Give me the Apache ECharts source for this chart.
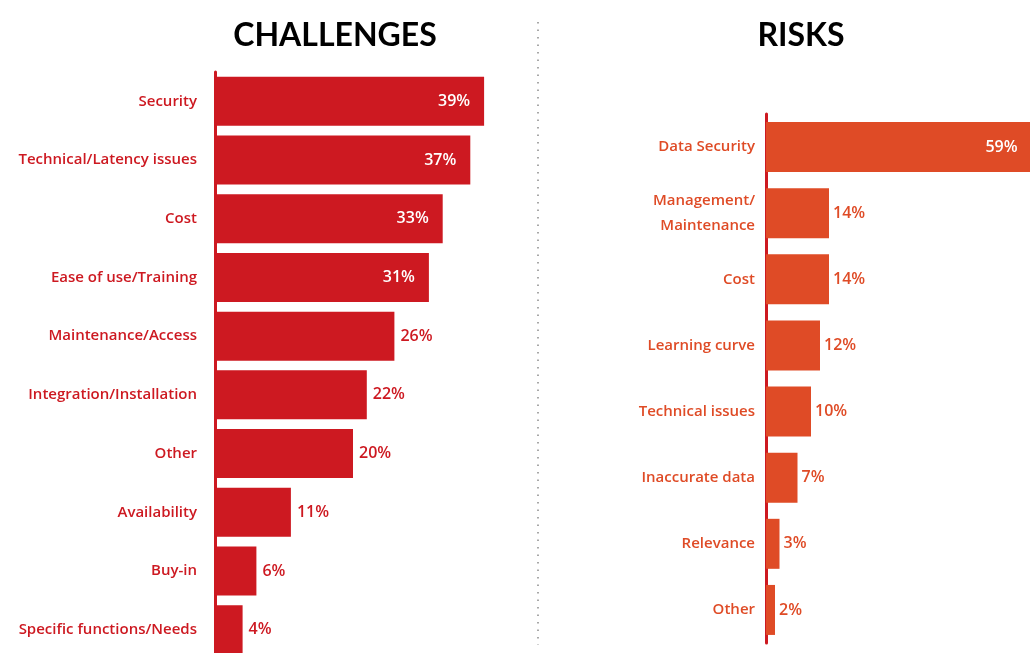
<!DOCTYPE html>
<html>
<head>
<meta charset="utf-8">
<script src="https://cdn.jsdelivr.net/npm/echarts@6/dist/echarts.min.js"></script>
<style>
html,body{margin:0;padding:0;background:#fff;}
#chart{width:1030px;height:653px;}
</style>
</head>
<body>
<div id="chart"></div>
<script>
const challengeCats = ['Security','Technical/Latency issues','Cost','Ease of use/Training','Maintenance/Access','Integration/Installation','Other','Availability','Buy-in','Specific functions/Needs'];
const challengeValues = [39,37,33,31,26,22,20,11,6,4];
const riskCats = ['Data Security','Management/\nMaintenance','Cost','Learning curve','Technical issues','Inaccurate data','Relevance','Other'];
const riskValues = [59,14,14,12,10,7,3,2];

const RED = '#cd1921';
const ORANGE = '#df4b26';
const FONT = '"Open Sans", Lato, sans-serif';
const TFONT = 'Lato, "Open Sans", sans-serif';

function mkData(vals, threshold, color, outDist) {
  return vals.map(v => ({
    value: v,
    label: v >= threshold
      ? {position: 'insideRight', distance: 14, color: '#fff'}
      : {position: 'right', distance: outDist, color: color}
  }));
}

const chart = echarts.init(document.getElementById('chart'));
chart.setOption({
  animation: false,
  backgroundColor: '#fff',
  graphic: [
    {type: 'line', shape: {x1: 538, y1: 22, x2: 538, y2: 645},
     style: {stroke: '#a8a8a8', lineWidth: 2, lineDash: [1.5, 6]}},
    {type: 'text', x: 335, y: 36, style: {text: 'CHALLENGES', align: 'center', verticalAlign: 'middle',
     font: 'bold 32px ' + TFONT, fill: '#000'}},
    {type: 'text', x: 801, y: 36, style: {text: 'RISKS', align: 'center', verticalAlign: 'middle',
     font: 'bold 32px ' + TFONT, fill: '#000'}}
  ],
  grid: [
    {left: 215, top: 72, width: 276, height: 587, outerBoundsMode: 'none', containLabel: false},
    {left: 766, top: 114, width: 270, height: 529, outerBoundsMode: 'none', containLabel: false}
  ],
  xAxis: [
    {gridIndex: 0, type: 'value', min: 0, max: 40, show: false},
    {gridIndex: 1, type: 'value', min: 0, max: 60, show: false}
  ],
  yAxis: [
    {gridIndex: 0, type: 'category', data: challengeCats, inverse: true, offset: 3,
     axisLine: {show: true, lineStyle: {color: RED, width: 3}},
     axisTick: {show: false}, splitLine: {show: false},
     axisLabel: {margin: 15, color: RED, fontFamily: FONT, fontSize: 15, fontWeight: 600}},
    {gridIndex: 1, type: 'category', data: riskCats, inverse: true, offset: 3,
     axisLine: {show: true, lineStyle: {color: RED, width: 3}},
     axisTick: {show: false}, splitLine: {show: false},
     axisLabel: {margin: 8, color: ORANGE, fontFamily: FONT, fontSize: 15, fontWeight: 600, lineHeight: 25, align: 'right'}}
  ],
  series: [
    {type: 'bar', xAxisIndex: 0, yAxisIndex: 0, barWidth: 49,
     itemStyle: {color: RED},
     label: {show: true, formatter: '{c}%', fontFamily: FONT, fontSize: 16, fontWeight: 600},
     data: mkData(challengeValues, 30, RED, 6)},
    {type: 'bar', xAxisIndex: 1, yAxisIndex: 1, barWidth: 50,
     itemStyle: {color: ORANGE},
     label: {show: true, formatter: '{c}%', fontFamily: FONT, fontSize: 16, fontWeight: 600},
     data: mkData(riskValues, 30, ORANGE, 4)}
  ]
});
</script>
</body>
</html>
